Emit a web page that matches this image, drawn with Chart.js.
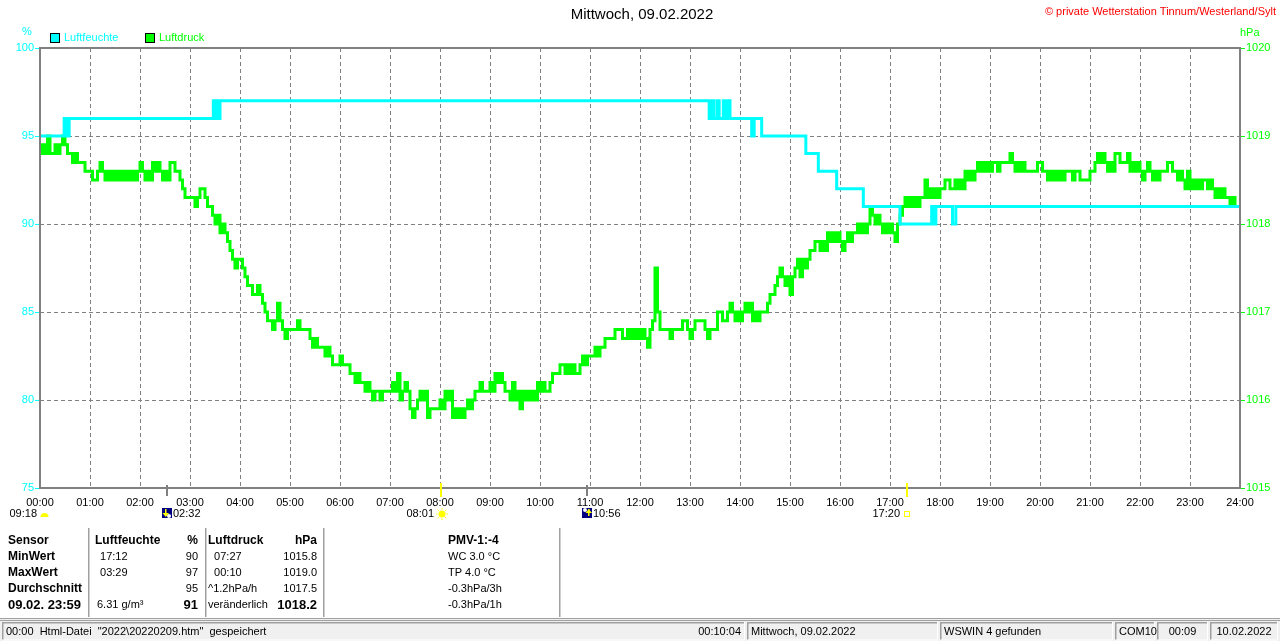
<!DOCTYPE html>
<html>
<head>
<meta charset="utf-8">
<title>Mittwoch, 09.02.2022</title>
<script src="https://cdn.jsdelivr.net/npm/chart.js@4"></script>
<style>
  html, body { margin: 0; padding: 0; background: #fff; overflow: hidden; }
  #wrap { width: 1280px; height: 641px; }
</style>
</head>
<body>
<div id="wrap"><canvas id="chart" width="1280" height="641"></canvas></div>
<script>
// Luftfeuchte: minute of day where the value changes, and the new value (%)
const humTimes  = [0, 29, 31, 32, 34, 35, 208, 210, 212, 214, 216,
                   803, 806, 809, 813, 815, 820, 823, 825, 828,
                   854, 857, 866, 919, 934, 956, 988, 1032,
                   1070, 1072, 1075, 1095, 1099, 1440];
const humValues = [95, 96, 95, 96, 95, 96, 97, 96, 97, 96, 97,
                   96, 97, 96, 97, 96, 97, 96, 97, 96,
                   95, 96, 95, 94, 93, 92, 91, 90,
                   91, 90, 91, 90, 91, 91];

// Luftdruck every 3 minutes (hPa), one row per hour
const pressStep = 3;
const pressure = [
  1018.8,1018.9,1018.8,1019.0,1018.8,1018.8,1018.9,1018.8,1018.9,1019.0,1018.9,1018.8,1018.8,1018.7,1018.8,1018.7,1018.7,1018.7,1018.6,1018.6,
  1018.6,1018.5,1018.5,1018.6,1018.7,1018.6,1018.5,1018.6,1018.5,1018.6,1018.5,1018.6,1018.5,1018.6,1018.5,1018.6,1018.5,1018.6,1018.5,1018.6,
  1018.7,1018.6,1018.5,1018.6,1018.5,1018.7,1018.6,1018.7,1018.6,1018.5,1018.6,1018.5,1018.7,1018.7,1018.6,1018.6,1018.5,1018.4,1018.3,1018.3,
  1018.3,1018.3,1018.2,1018.3,1018.4,1018.4,1018.3,1018.2,1018.2,1018.1,1018.0,1018.1,1017.9,1018.0,1017.9,1017.8,1017.7,1017.6,1017.5,1017.6,
  1017.6,1017.5,1017.4,1017.3,1017.3,1017.2,1017.2,1017.3,1017.2,1017.1,1017.0,1016.9,1016.9,1016.8,1016.9,1017.1,1016.9,1016.8,1016.7,1016.8,
  1016.8,1016.8,1016.8,1016.9,1016.8,1016.8,1016.8,1016.8,1016.7,1016.6,1016.7,1016.6,1016.6,1016.6,1016.5,1016.6,1016.5,1016.4,1016.4,1016.4,
  1016.5,1016.4,1016.4,1016.4,1016.3,1016.3,1016.2,1016.3,1016.2,1016.2,1016.1,1016.2,1016.1,1016.0,1016.1,1016.1,1016.0,1016.1,1016.1,1016.1,
  1016.1,1016.2,1016.1,1016.3,1016.0,1016.1,1016.2,1016.1,1015.9,1015.8,1015.9,1016.0,1016.1,1016.0,1016.1,1015.8,1015.9,1015.9,1015.9,1015.9,
  1016.0,1015.9,1016.1,1016.0,1016.1,1015.8,1015.9,1015.8,1015.9,1015.8,1015.9,1016.0,1015.9,1016.0,1016.1,1016.1,1016.2,1016.1,1016.1,1016.1,
  1016.2,1016.1,1016.3,1016.2,1016.3,1016.2,1016.1,1016.1,1016.0,1016.2,1016.0,1016.1,1015.9,1016.1,1016.0,1016.1,1016.0,1016.1,1016.0,1016.2,
  1016.1,1016.2,1016.1,1016.1,1016.2,1016.3,1016.3,1016.3,1016.4,1016.4,1016.3,1016.4,1016.3,1016.4,1016.3,1016.3,1016.4,1016.5,1016.4,1016.5,
  1016.5,1016.5,1016.6,1016.5,1016.6,1016.6,1016.7,1016.7,1016.7,1016.7,1016.8,1016.8,1016.8,1016.7,1016.7,1016.8,1016.7,1016.8,1016.7,1016.8,
  1016.7,1016.8,1016.7,1016.6,1016.8,1016.9,1017.5,1017.0,1016.8,1016.8,1016.8,1016.8,1016.7,1016.8,1016.8,1016.8,1016.8,1016.9,1016.9,1016.8,
  1016.7,1016.8,1016.9,1016.9,1016.9,1016.9,1016.8,1016.7,1016.8,1016.8,1016.8,1017.0,1017.0,1016.9,1016.9,1017.0,1017.1,1017.0,1016.9,1017.0,
  1016.9,1017.0,1017.1,1017.0,1017.1,1016.9,1017.0,1016.9,1017.0,1017.0,1017.0,1017.1,1017.2,1017.2,1017.3,1017.4,1017.5,1017.4,1017.3,1017.4,
  1017.2,1017.4,1017.5,1017.6,1017.4,1017.6,1017.5,1017.6,1017.7,1017.7,1017.8,1017.8,1017.7,1017.8,1017.7,1017.9,1017.8,1017.9,1017.8,1017.9,
  1017.8,1017.7,1017.8,1017.9,1017.8,1017.9,1017.9,1018.0,1017.9,1018.0,1017.9,1018.0,1018.2,1018.1,1018.0,1018.1,1018.0,1017.9,1018.0,1017.9,
  1018.0,1017.9,1017.8,1018.0,1018.1,1018.2,1018.3,1018.2,1018.3,1018.2,1018.3,1018.2,1018.3,1018.3,1018.5,1018.3,1018.4,1018.3,1018.4,1018.3,
  1018.4,1018.4,1018.5,1018.5,1018.4,1018.4,1018.5,1018.4,1018.5,1018.4,1018.6,1018.5,1018.6,1018.5,1018.6,1018.7,1018.6,1018.7,1018.6,1018.7,
  1018.6,1018.7,1018.7,1018.6,1018.7,1018.7,1018.7,1018.7,1018.8,1018.7,1018.6,1018.7,1018.6,1018.7,1018.6,1018.6,1018.6,1018.6,1018.6,1018.7,
  1018.7,1018.6,1018.6,1018.5,1018.6,1018.5,1018.6,1018.5,1018.6,1018.5,1018.6,1018.6,1018.6,1018.5,1018.6,1018.6,1018.5,1018.5,1018.5,1018.5,
  1018.6,1018.6,1018.7,1018.8,1018.7,1018.8,1018.7,1018.6,1018.7,1018.6,1018.8,1018.8,1018.7,1018.7,1018.7,1018.8,1018.6,1018.7,1018.6,1018.7,
  1018.6,1018.5,1018.6,1018.7,1018.6,1018.5,1018.6,1018.5,1018.6,1018.6,1018.6,1018.7,1018.7,1018.6,1018.6,1018.5,1018.6,1018.5,1018.4,1018.6,
  1018.4,1018.5,1018.4,1018.5,1018.4,1018.5,1018.5,1018.4,1018.5,1018.4,1018.3,1018.4,1018.3,1018.4,1018.3,1018.3,1018.2,1018.3,1018.2,1018.2
];

// axis ranges / ticks
const humMin = 75, humMax = 100, humStep = 5;
const pressMin = 1015, pressMax = 1020, pressTickStep = 1;
const dayMinutes = 1440;

// sun / moon events under the time axis
const events = [
  { time: '02:32', kind: 'moondown' },
  { time: '08:01', kind: 'sunrise' },
  { time: '10:56', kind: 'moonup' },
  { time: '17:20', kind: 'sunset' }
];
const moonLabel = '09:18';

// table below the chart
const tableRows = [
  ['Sensor',       'Luftfeuchte', '%',  'Luftdruck',    'hPa',    'PMV-1:-4'],
  ['MinWert',      ' 17:12',      '90', '  07:27',      '1015.8', 'WC 3.0 °C'],
  ['MaxWert',      ' 03:29',      '97', '  00:10',      '1019.0', 'TP 4.0 °C'],
  ['Durchschnitt', '',            '95', '^1.2hPa/h',    '1017.5', '-0.3hPa/3h'],
  ['09.02. 23:59', '6.31 g/m³',   '91', 'veränderlich', '1018.2', '-0.3hPa/1h']
];

const statusCells = [
  { x0: 2,    x1: 745,  text: '00:00  Html-Datei  "2022\\20220209.htm"  gespeichert', right: '00:10:04' },
  { x0: 747,  x1: 938,  text: 'Mittwoch, 09.02.2022' },
  { x0: 940,  x1: 1113, text: 'WSWIN 4 gefunden' },
  { x0: 1115, x1: 1155, text: 'COM10' },
  { x0: 1157, x1: 1208, text: '00:09', center: true },
  { x0: 1210, x1: 1278, text: '10.02.2022', center: true }
];

const FONT = "'Liberation Sans', Arial, sans-serif";
const CYAN = '#00ffff';
const GREEN = '#00ff00';
const GREY = '#808080';

function toMinutes(s) {
  let p = s.split(':');
  return parseInt(p[0]) * 60 + parseInt(p[1]);
}

let humData = humTimes.map((t, i) => ({ x: t, y: humValues[i] }));
let pressData = pressure.map((v, i) => ({ x: i * pressStep, y: v }));
pressData.push({ x: dayMinutes, y: pressure[pressure.length - 1] });

function txt(ctx, s, x, y, color, font, align) {
  ctx.fillStyle = color;
  ctx.font = font;
  ctx.textAlign = align || 'left';
  ctx.textBaseline = 'middle';
  ctx.fillText(s, x, y);
}

const decorations = {
  id: 'decorations',
  beforeDraw(chart) {
    const ctx = chart.ctx;
    ctx.save();
    ctx.fillStyle = '#ffffff';
    ctx.fillRect(0, 0, chart.width, chart.height);
    ctx.restore();
  },
  afterDraw(chart) {
    const ctx = chart.ctx;
    const a = chart.chartArea;
    const xs = chart.scales.x;
    ctx.save();

    // frame
    ctx.strokeStyle = GREY;
    ctx.lineWidth = 2;
    ctx.strokeRect(a.left, a.top, a.right - a.left, a.bottom - a.top);

    // title, copyright
    txt(ctx, 'Mittwoch, 09.02.2022', 642, 15, '#000', '15px ' + FONT, 'center');
    txt(ctx, '© private Wetterstation Tinnum/Westerland/Sylt', 1276, 12, '#ff0000', '11px ' + FONT, 'right');

    // axis units
    txt(ctx, '%', 27, 32, CYAN, '11px ' + FONT, 'center');
    txt(ctx, 'hPa', 1240, 33, GREEN, '11px ' + FONT, 'left');

    // legend
    ctx.lineWidth = 1;
    ctx.strokeStyle = '#000';
    ctx.fillStyle = CYAN;
    ctx.fillRect(50.5, 33.5, 9, 9);
    ctx.strokeRect(50.5, 33.5, 9, 9);
    txt(ctx, 'Luftfeuchte', 64, 38, CYAN, '11px ' + FONT);
    ctx.fillStyle = GREEN;
    ctx.fillRect(145.5, 33.5, 9, 9);
    ctx.strokeRect(145.5, 33.5, 9, 9);
    txt(ctx, 'Luftdruck', 159, 38, GREEN, '11px ' + FONT);

    // moon label at the start of the day
    txt(ctx, moonLabel, 37, 514, '#000', '11px ' + FONT, 'right');
    ctx.fillStyle = '#ffff00';
    ctx.beginPath();
    ctx.arc(44.5, 517, 4, Math.PI, 0);
    ctx.fill();

    // sun / moon events
    events.forEach(ev => {
      let px = Math.round(xs.getPixelForValue(toMinutes(ev.time)));
      let sun = ev.kind == 'sunrise' || ev.kind == 'sunset';
      ctx.fillStyle = sun ? '#ffff00' : GREY;
      if (sun) ctx.fillRect(px - 1, 483, 2, 14);
      else ctx.fillRect(px - 1, 485, 2, 11);

      if (ev.kind == 'sunrise') {
        txt(ctx, ev.time, px - 7, 514, '#000', '11px ' + FONT, 'right');
        ctx.fillStyle = '#ffff00';
        ctx.beginPath();
        ctx.arc(px + 1, 514, 3.5, 0, Math.PI * 2);
        ctx.fill();
        ctx.strokeStyle = '#ffff00';
        ctx.lineWidth = 1;
        for (let k = 0; k < 8; k++) {
          let ang = k * Math.PI / 4;
          ctx.beginPath();
          ctx.moveTo(px + 1 + Math.cos(ang) * 4.5, 514 + Math.sin(ang) * 4.5);
          ctx.lineTo(px + 1 + Math.cos(ang) * 6, 514 + Math.sin(ang) * 6);
          ctx.stroke();
        }
      } else if (ev.kind == 'sunset') {
        txt(ctx, ev.time, px - 7, 514, '#000', '11px ' + FONT, 'right');
        ctx.strokeStyle = '#ffff00';
        ctx.lineWidth = 1;
        ctx.strokeRect(px - 2.5, 511.5, 5, 5);
      } else {
        ctx.fillStyle = '#000080';
        ctx.fillRect(px - 5, 508, 10, 10);
        ctx.fillStyle = '#ffffff';
        ctx.beginPath();
        if (ev.kind == 'moondown') ctx.arc(px + 2, 516, 2, 0, Math.PI * 2);
        else ctx.arc(px - 2, 510, 2, 0, Math.PI * 2);
        ctx.fill();
        ctx.fillStyle = '#ffff00';
        let ax = ev.kind == 'moondown' ? px - 2 : px + 1;
        ctx.fillRect(ax, 509, 1.5, 7);
        ctx.beginPath();
        if (ev.kind == 'moondown') {
          ctx.moveTo(ax - 2.5, 513); ctx.lineTo(ax + 4, 513); ctx.lineTo(ax + 0.75, 517);
        } else {
          ctx.moveTo(ax - 2.5, 513); ctx.lineTo(ax + 4, 513); ctx.lineTo(ax + 0.75, 509);
        }
        ctx.fill();
        txt(ctx, ev.time, px + 6, 514, '#000', '11px ' + FONT);
      }
    });

    // table
    const rowY = [541, 557, 573, 589, 605];
    const bold = 'bold 12px ' + FONT;
    const boldBig = 'bold 13px ' + FONT;
    const normal = '11px ' + FONT;
    tableRows.forEach((r, i) => {
      let first = i == 0;
      let last = i == tableRows.length - 1;
      txt(ctx, r[0], 8, rowY[i], '#000', last ? boldBig : bold);
      txt(ctx, r[1], first ? 95 : 97, rowY[i], '#000', first ? bold : normal);
      txt(ctx, r[2], 198, rowY[i], '#000', first ? bold : (last ? boldBig : normal), 'right');
      txt(ctx, r[3], 208, rowY[i], '#000', first ? bold : normal);
      txt(ctx, r[4], 317, rowY[i], '#000', first ? bold : (last ? boldBig : normal), 'right');
      txt(ctx, r[5], 448, rowY[i], '#000', first ? bold : normal);
    });
    ctx.fillStyle = '#a0a0a0';
    [88, 205, 323, 559].forEach(x => ctx.fillRect(x, 528, 1.5, 89));

    // status bar
    ctx.fillStyle = '#f0f0f0';
    ctx.fillRect(0, 619, 1280, 22);
    ctx.fillStyle = '#a0a0a0';
    ctx.fillRect(0, 618, 1280, 1);
    ctx.fillRect(0, 620, 1280, 1);
    statusCells.forEach(c => {
      ctx.fillStyle = '#a0a0a0';
      ctx.fillRect(c.x0, 622, c.x1 - c.x0, 1.5);
      ctx.fillRect(c.x0, 622, 1.5, 18);
      ctx.fillStyle = '#ffffff';
      ctx.fillRect(c.x0, 639.5, c.x1 - c.x0, 1);
      ctx.fillRect(c.x1 - 1, 622, 1, 18);
      if (c.center) txt(ctx, c.text, (c.x0 + c.x1) / 2, 632, '#000', normal, 'center');
      else txt(ctx, c.text, c.x0 + 4, 632, '#000', normal);
      if (c.right) txt(ctx, c.right, c.x1 - 4, 632, '#000', normal, 'right');
    });

    ctx.restore();
  }
};

const config = {
  type: 'line',
  data: {
    datasets: [
      {
        label: 'Luftfeuchte',
        data: humData,
        yAxisID: 'y',
        borderColor: CYAN,
        borderWidth: 3,
        pointRadius: 0,
        stepped: true,
        fill: false
      },
      {
        label: 'Luftdruck',
        data: pressData,
        yAxisID: 'y1',
        borderColor: GREEN,
        borderWidth: 3,
        pointRadius: 0,
        stepped: true,
        fill: false
      }
    ]
  },
  options: {
    responsive: false,
    animation: false,
    devicePixelRatio: 1,
    layout: {
      padding: { top: 48, left: 0, right: 0, bottom: 0 }
    },
    plugins: {
      legend: { display: false },
      tooltip: { enabled: false },
      title: { display: false }
    },
    scales: {
      x: {
        type: 'linear',
        min: 0,
        max: dayMinutes,
        afterFit: (s) => { s.height = 153; },
        ticks: {
          stepSize: 60,
          maxTicksLimit: 30,
          autoSkip: false,
          maxRotation: 0,
          padding: 8,
          color: '#000',
          font: { family: FONT, size: 11 },
          callback: (v) => String(v / 60).padStart(2, '0') + ':00'
        },
        grid: { color: GREY, lineWidth: 1, drawTicks: false },
        border: { display: false, dash: [4, 3] }
      },
      y: {
        position: 'left',
        min: humMin,
        max: humMax,
        afterFit: (s) => { s.width = 40; },
        ticks: {
          stepSize: humStep,
          padding: 1,
          color: CYAN,
          font: { family: FONT, size: 11 },
          callback: (v) => String(v)
        },
        grid: { color: GREY, lineWidth: 1, tickColor: CYAN, tickLength: 5, tickBorderDash: [] },
        border: { display: false, dash: [4, 3] }
      },
      y1: {
        position: 'right',
        min: pressMin,
        max: pressMax,
        afterFit: (s) => { s.width = 40; },
        ticks: {
          stepSize: pressTickStep,
          padding: 1,
          color: GREEN,
          font: { family: FONT, size: 11 },
          callback: (v) => String(v)
        },
        grid: { drawOnChartArea: false, tickColor: GREEN, tickLength: 5 },
        border: { display: false }
      }
    }
  },
  plugins: [decorations]
};

const chart = new Chart(document.getElementById('chart'), config);
</script>
</body>
</html>
